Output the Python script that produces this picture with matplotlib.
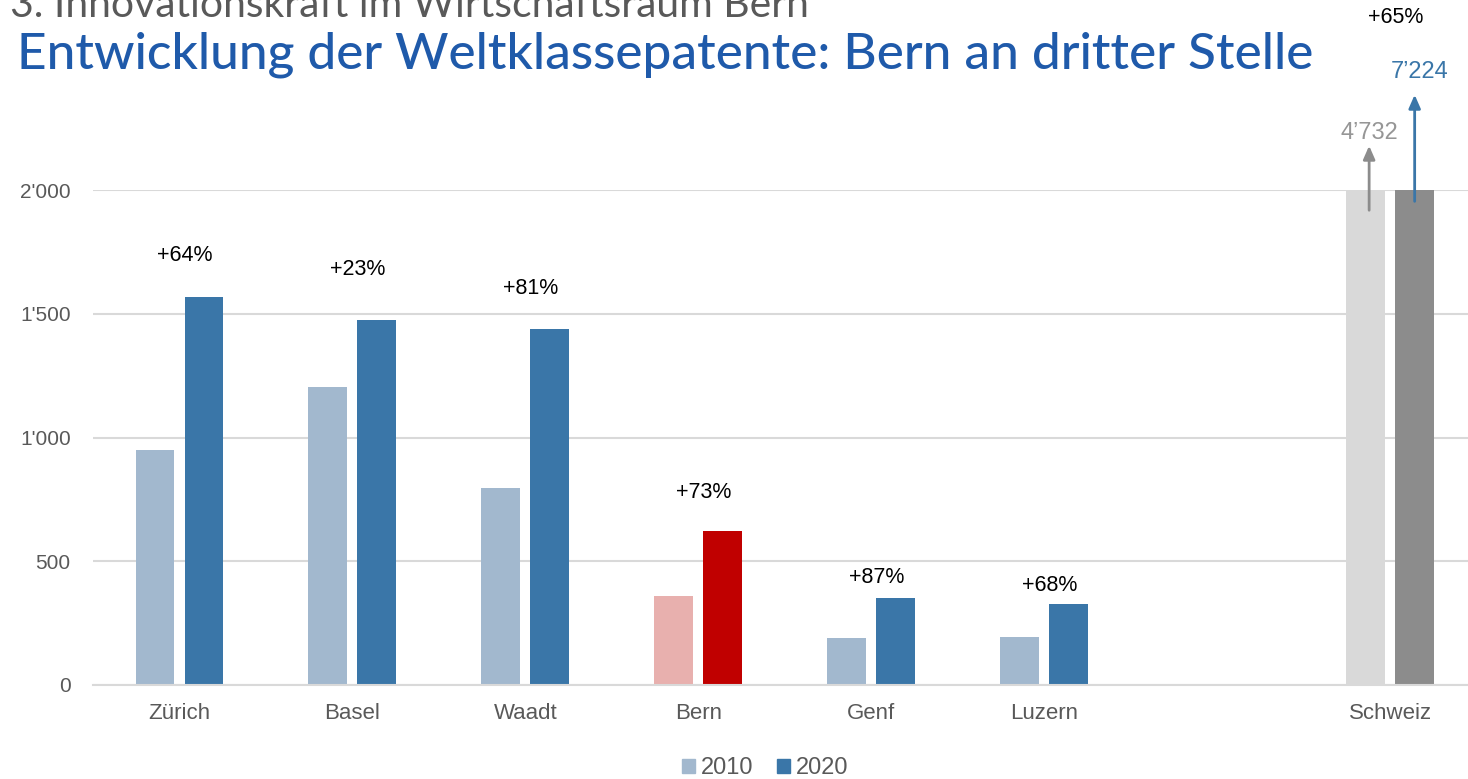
import matplotlib
matplotlib.use("Agg")
import matplotlib.pyplot as plt
import numpy as np

categories = ["Zürich", "Basel", "Waadt", "Bern", "Genf", "Luzern", "", "Schweiz"]
values_2010 = [949, 1204, 796, 360, 188, 194, None, 4732]
values_2020 = [1568, 1475, 1438, 622, 352, 327, None, 7224]
pct_labels = ["+64%", "+23%", "+81%", "+73%", "+87%", "+68%", None, "+65%"]
pct_label_y = [1737, 1677, 1600, 776, 436, 404, None, 2695]
value_labels_ch = ["4’732", "7’224"]
yticks = [0, 500, 1000, 1500, 2000]
ytick_labels = ["0", "500", "1'000", "1'500", "2'000"]

col_2010 = ["#A2B8CE"] * 6 + [None, "#D9D9D9"]
col_2020 = ["#3A76A8"] * 6 + [None, "#8C8C8C"]
col_2010[3] = "#E8B0AE"
col_2020[3] = "#C00000"

fig = plt.figure(figsize=(14.68, 7.79), dpi=100)
ax = fig.add_axes([93/1468, 1-685/779, 1-93/1468, (685-190)/779])

x = np.arange(len(categories))
w = 0.225
off = 0.1416
for i in range(len(categories)):
    if values_2010[i] is None:
        continue
    ax.bar(x[i]-off, values_2010[i], w, color=col_2010[i], zorder=2)
    ax.bar(x[i]+off, values_2020[i], w, color=col_2020[i], zorder=2)
    ax.text(x[i]+0.03, pct_label_y[i], pct_labels[i], ha="center", va="center",
            fontsize=15.5, color="black", family="Liberation Sans", clip_on=False)

ax.set_ylim(0, 2000)
ax.set_xlim(-0.5, 7.45)
ax.set_yticks(yticks)
ax.set_yticklabels(ytick_labels)
ax.set_xticks([i for i in x if categories[i]])
ax.set_xticklabels([c for c in categories if c])
ax.tick_params(axis="both", length=0, labelcolor="#595959")
ax.tick_params(axis="y", pad=16, labelsize=15)
ax.tick_params(axis="x", pad=13, labelsize=16)
for lbl in ax.get_xticklabels() + ax.get_yticklabels():
    lbl.set_family("Liberation Sans")
ax.grid(axis="y", color="#D9D9D9", linewidth=1.5, zorder=0)
for s in ["top", "right", "left"]:
    ax.spines[s].set_visible(False)
ax.spines["bottom"].set_color("#D9D9D9")
ax.spines["bottom"].set_linewidth(1.5)
ax.set_axisbelow(True)

# arrows for Schweiz (values beyond axis)
ich = 7
ax.annotate("", xy=(ich-off+0.02, 2190), xytext=(ich-off+0.02, 1907),
            arrowprops=dict(arrowstyle="-|>,head_width=0.35,head_length=0.8",
                            color="#8C8C8C", lw=2), annotation_clip=False, zorder=5)
ax.annotate("", xy=(ich+off, 2396), xytext=(ich+off, 1943),
            arrowprops=dict(arrowstyle="-|>,head_width=0.35,head_length=0.8",
                            color="#3A76A8", lw=2), annotation_clip=False, zorder=5)
ax.text(ich-off+0.02, 2230, value_labels_ch[0], ha="center", va="center",
        fontsize=17, color="#969696", family="Liberation Sans", clip_on=False)
ax.text(ich+off+0.03, 2477, value_labels_ch[1], ha="center", va="center",
        fontsize=17, color="#3A76A8", family="Liberation Sans", clip_on=False)

# titles
fig.text(10/1468, 1-17/779, "3. Innovationskraft im Wirtschaftsraum Bern",
         fontsize=29.4, color="#595959", family="Lato", fontweight="normal",
         ha="left", va="baseline")
fig.text(17/1468, 1-68/779, "Entwicklung der Weltklassepatente: Bern an dritter Stelle",
         fontsize=37, color="#1F5AAA", family="Lato", fontweight="medium",
         ha="left", va="baseline")

# legend
from matplotlib.patches import Patch
handles = [Patch(color="#A2B8CE", label="2010"), Patch(color="#3A76A8", label="2020")]
leg = fig.legend(handles=handles, loc="center", bbox_to_anchor=(765/1468, 1-768/779),
                 ncol=2, frameon=False, handlelength=0.55, handleheight=0.55,
                 handletextpad=0.25, columnspacing=1.0, prop={"family": "Liberation Sans", "size": 17})
for t in leg.get_texts():
    t.set_color("#595959")

fig.savefig("out.png", dpi=100)
